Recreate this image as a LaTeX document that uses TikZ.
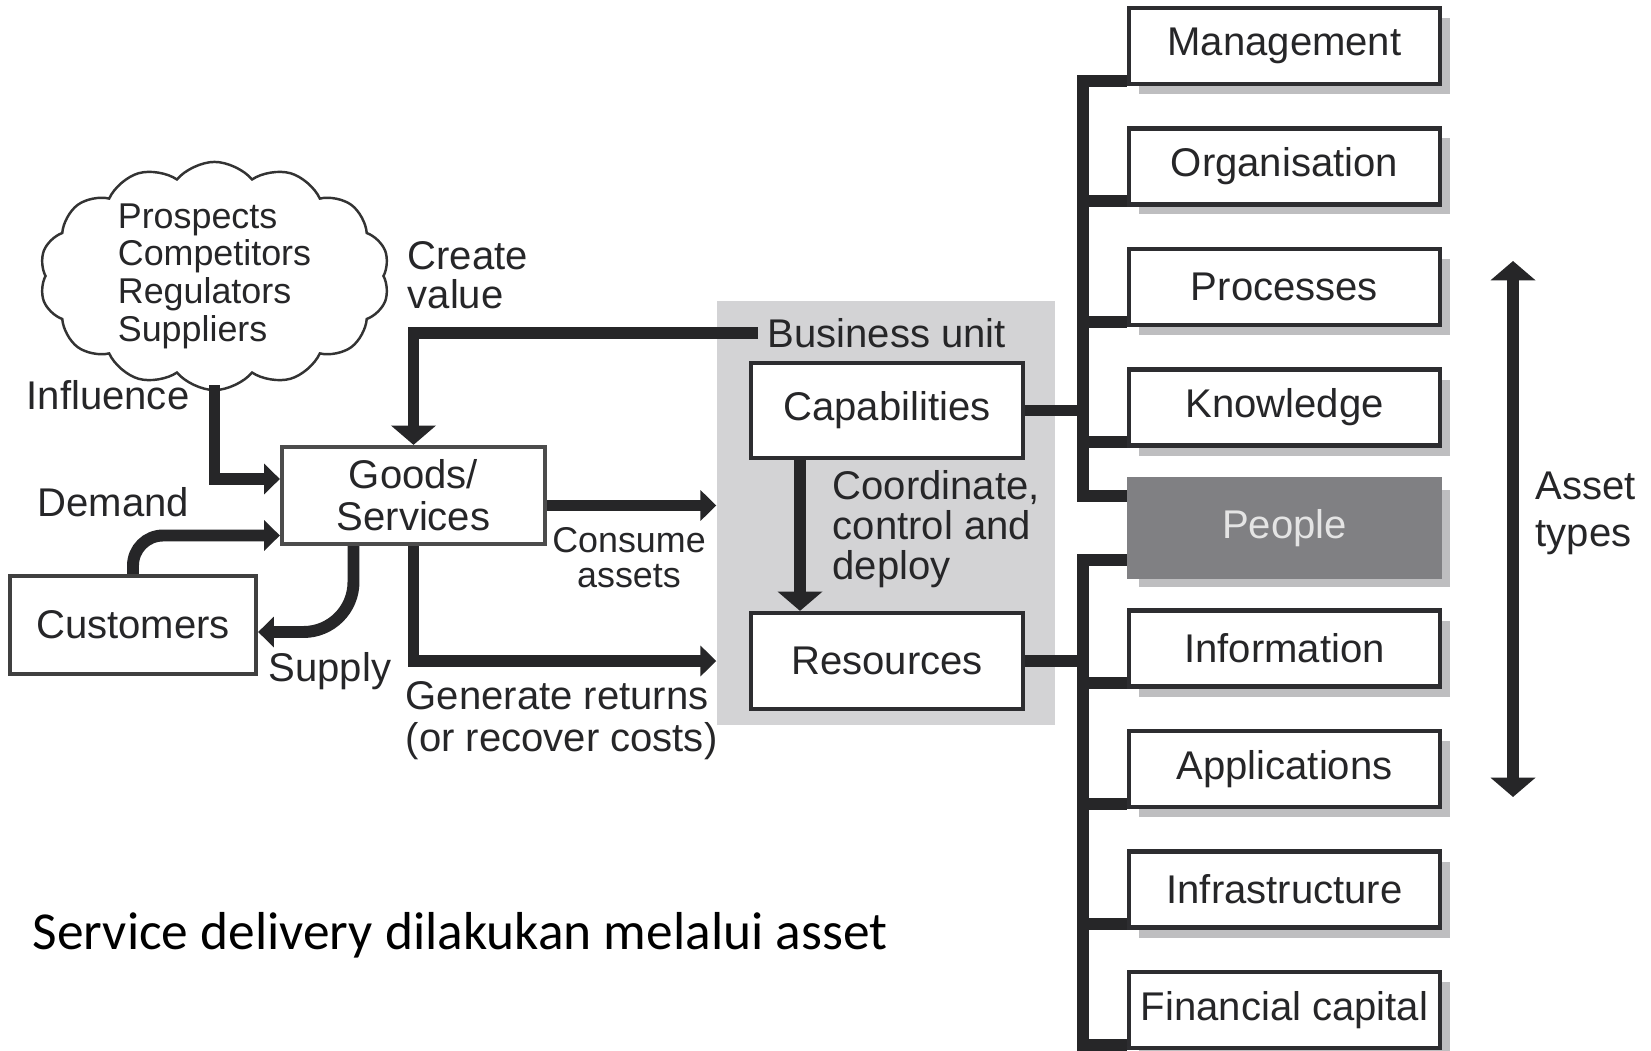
\documentclass[tikz,border=0pt]{standalone}
\usepackage{fontspec}
\setmainfont{Liberation Sans}
\newfontfamily\notefont{Carlito}
\usetikzlibrary{arrows.meta,positioning,shapes.symbols,shadows}

\definecolor{ink}{RGB}{38,38,40}
\definecolor{boxline}{RGB}{45,45,48}
\definecolor{unitgrey}{RGB}{211,211,213}
\definecolor{shadowgrey}{RGB}{190,190,192}
\definecolor{peoplegrey}{RGB}{128,128,131}
\definecolor{peopletext}{RGB}{228,228,228}

\tikzset{
  box/.style={draw=boxline, line width=1.2pt, fill=white, text=ink, inner sep=0pt},
  asset/.style={box, minimum width=3.11cm, minimum height=0.76cm,
    general shadow={fill=shadowgrey, shadow xshift=.1cm, shadow yshift=-.1cm}},
  lbl/.style={text=ink, inner sep=0pt, anchor=west, align=left},
  flow/.style={draw=ink, line width=3.4pt, ->},
  wide tip/.style={>={Triangle[width=12.5pt,length=5.5pt]}},
  bus/.style={draw=ink, line width=3.4pt},
}

\begin{document}
\begin{tikzpicture}[>={Triangle[width=8.5pt,length=4.5pt]}, node distance=1.205cm,
    font=\fontsize{11.4pt}{12pt}\selectfont]
\useasboundingbox (0,0) rectangle (16.51,10.5);

% business unit backdrop and its two boxes
\node[fill=unitgrey, minimum width=3.38cm, minimum height=4.24cm] (Unit) at (8.86,5.37) {};
\node[box, minimum width=2.72cm, minimum height=0.95cm] (Cap) at (8.87,6.395) {Capabilities};
\node[box, minimum width=2.72cm, minimum height=0.96cm] (Res) at (8.87,3.89) {Resources};

\node[box, draw=black!70, minimum width=2.63cm, minimum height=0.97cm, align=center]
    (Goods) at (4.135,5.545) {Goods/\\Services};
\node[box, draw=black!75, minimum width=2.46cm, minimum height=0.98cm] (Cust) at (1.33,4.25) {Customers};
\node[cloud, cloud puffs=14, cloud puff arc=100, cloud ignores aspect, draw=black!80,
    line width=.7pt, minimum width=3.5cm, minimum height=2.0cm, inner sep=0pt,
    align=left, text=ink, font=\fontsize{10.2pt}{10.7pt}\selectfont]
    (Env) at (2.145,7.74) {Prospects\\Competitors\\Regulators\\Suppliers};

% asset types
\node[asset] (Man) at (12.845,10.04) {Management};
\node[asset] (Org) [below of=Man] {Organisation};
\node[asset] (Pro) [below of=Org] {Processes};
\node[asset] (Kno) [below of=Pro] {Knowledge};
\node[asset, fill=peoplegrey, draw=peoplegrey, text=peopletext, minimum height=0.97cm]
    (Peo) [below of=Kno] {People};
\node[asset] (Inf) [below of=Peo] {Information};
\node[asset] (App) [below of=Inf] {Applications};
\node[asset] (Ifr) [below of=App] {Infrastructure};
\node[asset] (Fin) [below of=Ifr] {Financial capital};

% labels
\node[lbl, font=\fontsize{11.4pt}{11.1pt}\selectfont] (value) at (4.07,7.75) {Create\\value};
\node[lbl, inner xsep=.09cm] (unit) at (7.58,7.17) {Business unit};
\node[lbl] (infl) at (0.26,6.55) {Influence};
\node[lbl] (dem) at (0.37,5.48) {Demand};
\node[lbl] (sup) at (2.68,3.79) {Supply};
\node[lbl, anchor=center, align=center, font=\fontsize{10.2pt}{10pt}\selectfont]
    (cons) at (6.29,4.925) {Consume\\assets};
\node[lbl, font=\fontsize{11.4pt}{12pt}\selectfont] (gen) at (4.05,3.29) {Generate returns\\(or recover costs)};
\node[lbl, font=\fontsize{11.4pt}{11.4pt}\selectfont] (coord) at (8.32,5.21) {Coordinate,\\control and\\deploy};
\node[lbl, font=\fontsize{11.4pt}{13.4pt}\selectfont] (types) at (15.35,5.37) {Asset\\types};
\node[lbl, text=black, font=\notefont\fontsize{15.2pt}{18pt}\selectfont] (note) at (0.32,1.15)
    {Service delivery dilakukan melalui asset};

% flows
\draw[flow, wide tip] (unit.west) -| (Goods.north);
\draw[flow] ([yshift=.06cm]Env.south) |- ([yshift=.165cm]Goods.west);
\draw[flow, rounded corners=.3cm] (Cust.north) |- ([yshift=-.4cm]Goods.west);
\draw[flow, rounded corners=.5cm] ([xshift=-.6cm]Goods.south) |- ([yshift=-.07cm]Cust.east);
\draw[flow] ([yshift=-.1cm]Goods.east) -- ([yshift=-.1cm]Goods.east -| Unit.west);
\draw[flow] (Goods.south) |- (Res -| Unit.west);
\draw[flow, wide tip] ([xshift=-.87cm]Cap.south) -- ([xshift=-.87cm]Res.north);

\coordinate (typetop) at (15.13,7.89);
\coordinate (typebot) at (15.13,2.53);
\draw[flow, wide tip, <->] (typetop) -- (typebot);

% brackets to the asset types
\coordinate (bus) at (10.83,0);
\draw[bus] ([yshift=.055cm]Man.south west) -| ([yshift=-.19cm]Peo.north west -| bus)
    -- ([yshift=-.19cm]Peo.north west);
\foreach \n in {Org,Pro,Kno}
  \draw[bus] ([yshift=.055cm]\n.south west) -- ([yshift=.055cm]\n.south west -| bus);
\draw[bus] (Cap.east) -- (Cap.east -| bus);

\draw[bus] ([yshift=.19cm]Peo.south west) -| ([yshift=.055cm]Fin.south west -| bus)
    -- ([yshift=.055cm]Fin.south west);
\foreach \n in {Inf,App,Ifr}
  \draw[bus] ([yshift=.055cm]\n.south west) -- ([yshift=.055cm]\n.south west -| bus);
\draw[bus] (Res.east) -- (Res.east -| bus);

\end{tikzpicture}
\end{document}
